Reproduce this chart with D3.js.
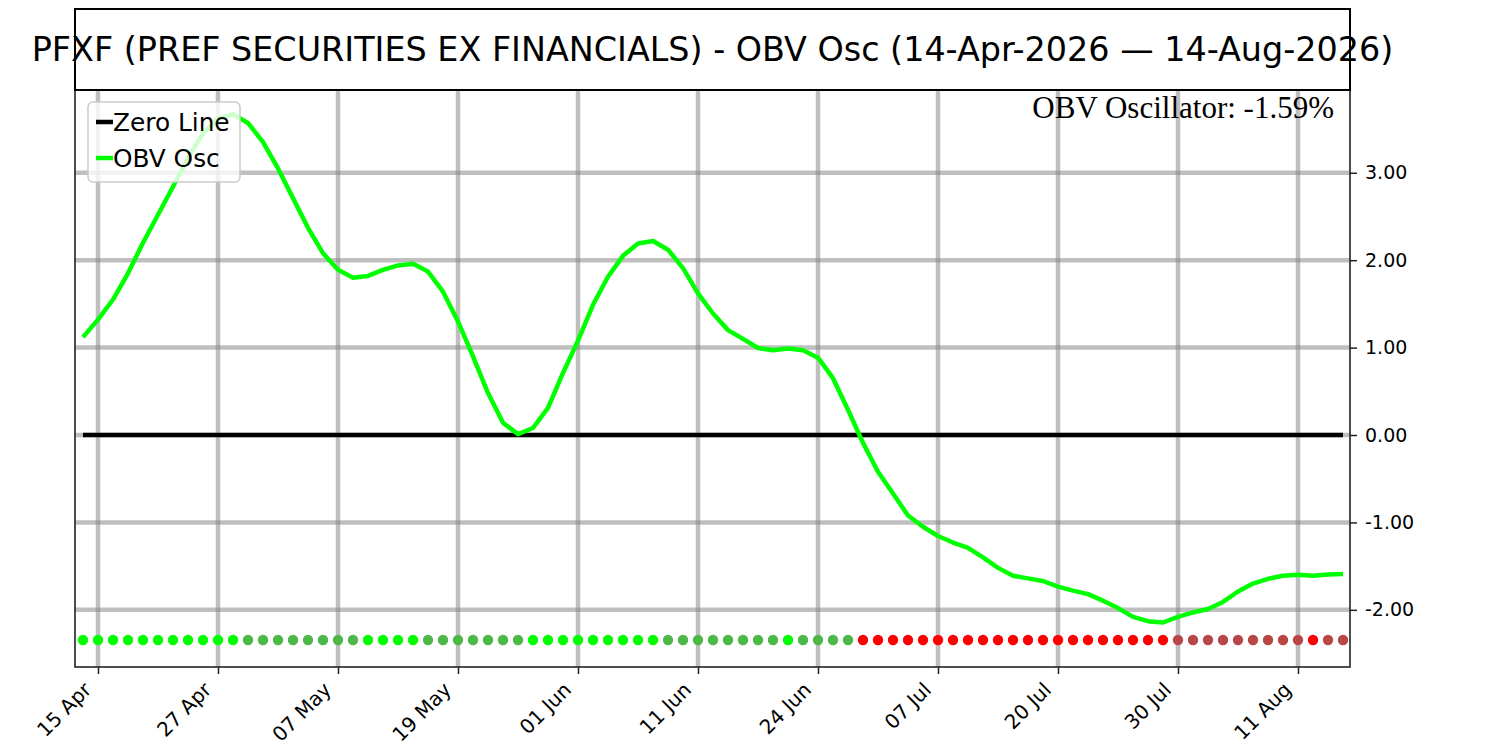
<!DOCTYPE html>
<html>
<head>
<meta charset="utf-8">
<script src="https://cdn.jsdelivr.net/npm/d3@7"></script>
<style>
  body { margin: 0; background: #fff; }
  text { font-family: 'DejaVu Sans', sans-serif; }
</style>
</head>
<body>
<script>
const width = 1500, height = 750;
const plotLeft = 75, plotRight = 1350, plotTop = 90, plotBottom = 667;

const title = 'PFXF (PREF SECURITIES EX FINANCIALS) - OBV Osc (14-Apr-2026 \u2014 14-Aug-2026)';

// trading days shown on the chart
const dates = [
  '2026-04-14','2026-04-15','2026-04-16','2026-04-17','2026-04-20','2026-04-21','2026-04-22','2026-04-23','2026-04-24',
  '2026-04-27','2026-04-28','2026-04-29','2026-04-30','2026-05-01','2026-05-04','2026-05-05','2026-05-06','2026-05-07',
  '2026-05-08','2026-05-11','2026-05-12','2026-05-13','2026-05-14','2026-05-15','2026-05-18','2026-05-19',
  '2026-05-20','2026-05-21','2026-05-22','2026-05-26','2026-05-27','2026-05-28','2026-05-29','2026-06-01',
  '2026-06-02','2026-06-03','2026-06-04','2026-06-05','2026-06-08','2026-06-09','2026-06-10','2026-06-11',
  '2026-06-12','2026-06-15','2026-06-16','2026-06-17','2026-06-18','2026-06-22','2026-06-23','2026-06-24',
  '2026-06-25','2026-06-26','2026-06-29','2026-06-30','2026-07-01','2026-07-02','2026-07-06','2026-07-07',
  '2026-07-08','2026-07-09','2026-07-10','2026-07-13','2026-07-15','2026-07-16','2026-07-17','2026-07-20',
  '2026-07-21','2026-07-22','2026-07-23','2026-07-24','2026-07-27','2026-07-28','2026-07-29','2026-07-30',
  '2026-07-31','2026-08-03','2026-08-04','2026-08-05','2026-08-06','2026-08-07','2026-08-10','2026-08-11',
  '2026-08-12','2026-08-13','2026-08-14'
];

// OBV oscillator (%)
const obvOsc = [
  1.12, 1.32, 1.55, 1.85, 2.20, 2.52, 2.84, 3.17, 3.45, 3.62,
  3.67, 3.57, 3.35, 3.05, 2.71, 2.37, 2.08, 1.89, 1.80, 1.82,
  1.89, 1.94, 1.96, 1.87, 1.64, 1.30, 0.90, 0.48, 0.14, 0.01,
  0.08, 0.31, 0.71, 1.08, 1.49, 1.81, 2.05, 2.19, 2.22, 2.12,
  1.91, 1.62, 1.39, 1.20, 1.10, 0.995, 0.97, 0.99, 0.97, 0.885,
  0.65, 0.29, -0.09, -0.42, -0.67, -0.92, -1.05, -1.155, -1.23, -1.29,
  -1.40, -1.52, -1.61, -1.64, -1.67, -1.735, -1.78, -1.82, -1.895, -1.98,
  -2.08, -2.13, -2.145, -2.08, -2.03, -1.99, -1.91, -1.79, -1.70, -1.645,
  -1.61, -1.60, -1.61, -1.595, -1.59
];

const yTicks = [-2, -1, 0, 1, 2, 3];
const tickEvery = 8, tickStart = 1;
const dotLevel = -2.345;

const parse = d3.timeParse('%Y-%m-%d');
const fmt = d3.timeFormat('%d %b');

const x = d3.scaleLinear().domain([-0.533, obvOsc.length - 1 + 0.467]).range([plotLeft, plotRight]);
const y = d3.scaleLinear().domain([-2.654, 3.947]).range([plotBottom, plotTop]);

const svg = d3.select('body').append('svg')
  .attr('width', width).attr('height', height);

svg.append('defs').append('clipPath').attr('id', 'plotclip')
  .append('rect').attr('x', plotLeft).attr('y', plotTop)
  .attr('width', plotRight - plotLeft).attr('height', plotBottom - plotTop);

const tickIdx = d3.range(tickStart, dates.length, tickEvery);

// grid
const grid = svg.append('g').attr('clip-path', 'url(#plotclip)');
grid.selectAll('.vg').data(tickIdx).enter().append('line')
  .attr('x1', d => x(d)).attr('x2', d => x(d))
  .attr('y1', plotTop).attr('y2', plotBottom)
  .attr('stroke', '#808080').attr('stroke-opacity', 0.5).attr('stroke-width', 4.5);
grid.selectAll('.hg').data(yTicks).enter().append('line')
  .attr('x1', plotLeft).attr('x2', plotRight)
  .attr('y1', d => y(d)).attr('y2', d => y(d))
  .attr('stroke', '#808080').attr('stroke-opacity', 0.5).attr('stroke-width', 4.5);

const plot = svg.append('g').attr('clip-path', 'url(#plotclip)');

// zero line
plot.append('path')
  .datum(obvOsc)
  .attr('d', d3.line().x((d, i) => x(i)).y(() => y(0)))
  .attr('fill', 'none').attr('stroke', '#000').attr('stroke-width', 4.5);

// oscillator line
plot.append('path')
  .datum(obvOsc)
  .attr('d', d3.line().x((d, i) => x(i)).y(d => y(d)))
  .attr('fill', 'none').attr('stroke', '#00ff00').attr('stroke-width', 4.5)
  .attr('stroke-linejoin', 'round');

// state dots: sign and direction of the oscillator
function dotColor(d, i) {
  const up = i === 0 || d >= obvOsc[i - 1];
  if (d >= 0) return up ? '#00ff00' : '#4bb848';
  return up ? '#b94646' : '#ff0000';
}
plot.selectAll('.dot').data(obvOsc).enter().append('circle')
  .attr('cx', (d, i) => x(i)).attr('cy', y(dotLevel)).attr('r', 5.2)
  .attr('fill', dotColor);

// axes
const yAxis = d3.axisRight(y).tickValues(yTicks).tickFormat(d => d.toFixed(2)).tickSize(7).tickPadding(8);
const gy = svg.append('g').attr('transform', `translate(${plotRight},0)`).call(yAxis);
gy.select('.domain').remove();
gy.selectAll('text').style('font-size', '19px').attr('fill', '#000');
gy.selectAll('line').attr('stroke', '#222').attr('stroke-width', 1.5);

const xAxis = d3.axisBottom(x).tickValues(tickIdx).tickFormat(i => fmt(parse(dates[i]))).tickSize(7);
const gx = svg.append('g').attr('transform', `translate(0,${plotBottom})`).call(xAxis);
gx.select('.domain').remove();
gx.selectAll('line').attr('stroke', '#222').attr('stroke-width', 1.5);
gx.selectAll('text')
  .style('font-size', '20px').attr('fill', '#000')
  .attr('text-anchor', 'end')
  .attr('y', 0).attr('dy', 0)
  .attr('transform', 'translate(-6,24) rotate(-45)');

// spines
svg.append('rect').attr('x', plotLeft).attr('y', plotTop)
  .attr('width', plotRight - plotLeft).attr('height', plotBottom - plotTop)
  .attr('fill', 'none').attr('stroke', '#222').attr('stroke-width', 1.6);

// title box
svg.append('rect').attr('x', plotLeft).attr('y', 9)
  .attr('width', plotRight - plotLeft).attr('height', plotTop - 9)
  .attr('fill', 'none').attr('stroke', '#000').attr('stroke-width', 2);
svg.append('text').attr('x', (plotLeft + plotRight) / 2).attr('y', 61)
  .attr('text-anchor', 'middle').style('font-size', '33.4px').attr('fill', '#000')
  .text(title);

// annotation
svg.append('text').attr('x', 1334).attr('y', 118)
  .attr('text-anchor', 'end')
  .style('font-family', "'Liberation Serif', serif").style('font-size', '31px')
  .text('OBV Oscillator: ' + obvOsc[obvOsc.length - 1].toFixed(2) + '%');

// legend
const legend = svg.append('g');
legend.append('rect').attr('x', 88).attr('y', 102).attr('width', 152).attr('height', 80)
  .attr('rx', 5).attr('fill', '#fff').attr('fill-opacity', 0.8)
  .attr('stroke', '#cccccc').attr('stroke-width', 1.5);
const items = [
  { name: 'Zero Line', color: '#000' },
  { name: 'OBV Osc', color: '#00ff00' }
];
items.forEach((it, k) => {
  const cy = 122 + k * 36;
  legend.append('line').attr('x1', 96).attr('x2', 113).attr('y1', cy).attr('y2', cy)
    .attr('stroke', it.color).attr('stroke-width', 4.5);
  legend.append('text').attr('x', 113).attr('y', cy + 9)
    .style('font-size', '24.8px').attr('fill', '#000').text(it.name);
});
</script>
</body>
</html>
